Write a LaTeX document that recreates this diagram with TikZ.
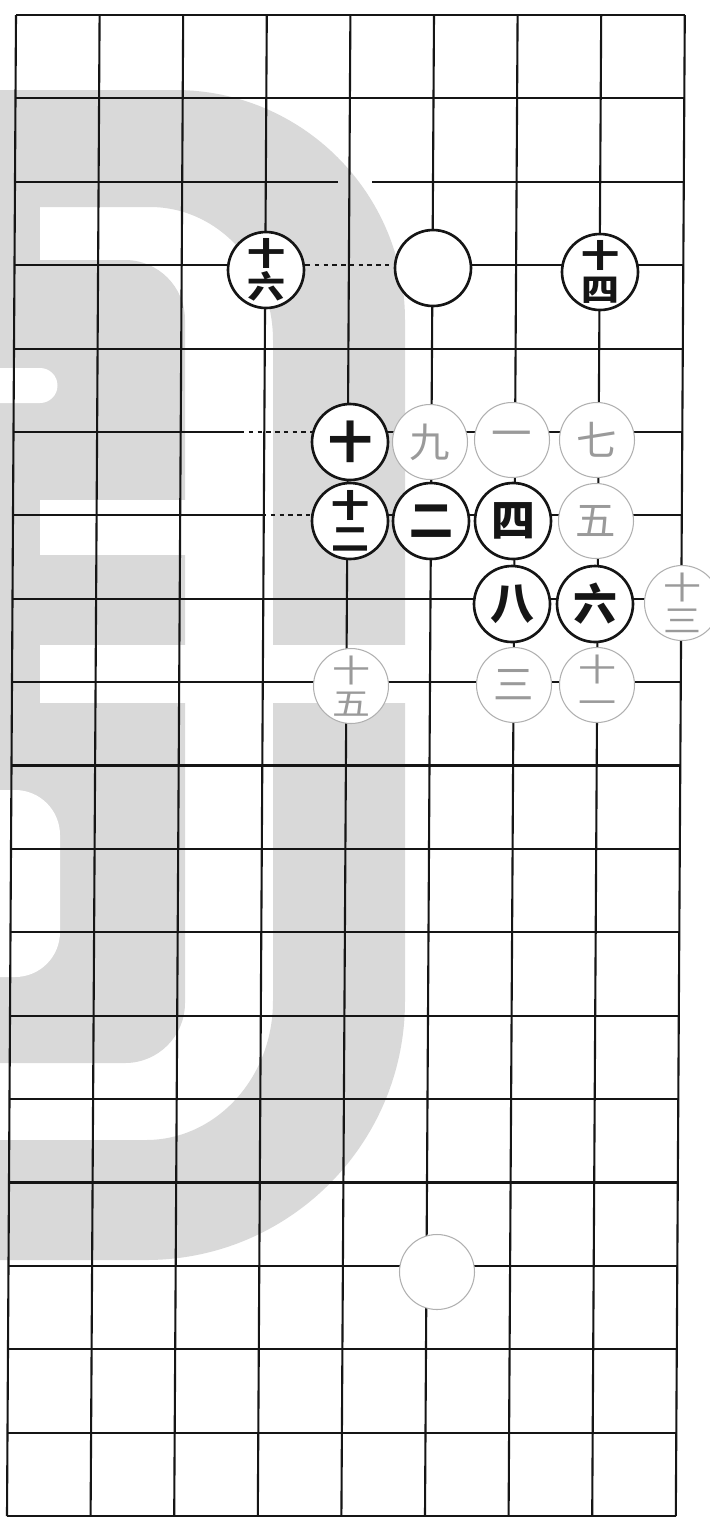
\documentclass[tikz,border=0pt]{standalone}
\usepackage{fontspec}
\newfontfamily\cjk{Noto Sans CJK SC}
\definecolor{wm}{HTML}{D9D9D9}
\definecolor{ink}{HTML}{151515}
\definecolor{faint}{HTML}{B0B0B0}
\definecolor{fainttext}{HTML}{9A9A9A}
\newcommand{\twodig}[1]{\scalebox{1.2}[1]{\fontsize{18}{19}\selectfont\vbox{\baselineskip=19pt\lineskiplimit=-20pt\hbox{十}\hbox{#1}}}}
\tikzset{
  gridline/.style={ink, line width=1.2pt},
  brokenline/.style={ink, line width=1.2pt, dash pattern=on 2.5pt off 2.5pt},
  bstone/.style={circle, draw=ink, line width=1.5pt, fill=white, minimum size=1.52cm, inner sep=0pt, text=ink, font=\cjk\bfseries\fontsize{25}{25}\selectfont},
  wstone/.style={circle, draw=faint, line width=0.6pt, fill=white, minimum size=1.5cm, inner sep=0pt, text=fainttext, font=\cjk\fontsize{23}{23}\selectfont},
  wmark/.style={fill=wm},
  wmhole/.style={fill=white}
}
\begin{document}
\begin{tikzpicture}[x=0.02cm, y=-0.02cm]
\useasboundingbox (0,0) rectangle (710,1519);
\fill[white] (0,0) rectangle (710,1519);
% watermark: outer ring
\fill[wmark, even odd rule]
  (-5,90) -- (175,90) arc[start angle=270, end angle=360, radius=230]
  -- (405,1001) arc[start angle=0, end angle=90, radius=259]
  -- (-5,1260) -- cycle
  (-5,207) -- (150,207) arc[start angle=270, end angle=360, x radius=123, y radius=133]
  -- (273,1001) arc[start angle=0, end angle=90, x radius=127, y radius=139]
  -- (-5,1140) -- cycle;
\fill[wmark] (-5,200) rectangle (40,265);
% watermark: inner shape
\fill[wmark]
  (-5,260) -- (125,260) arc[start angle=270, end angle=360, radius=60]
  -- (185,1003) arc[start angle=0, end angle=90, radius=60]
  -- (-5,1063) -- cycle;
% watermark cut-outs
\fill[wmhole] (-5,368) -- (40,368) arc[start angle=270, end angle=450, radius=17.5] -- (-5,403) -- cycle;
\fill[wmhole] (40,500) rectangle (190,555);
\fill[wmhole] (40,645) rectangle (410,703);
\fill[wmhole] (-5,790) -- (15,790) arc[start angle=270, end angle=360, radius=45]
  -- (60,932) arc[start angle=0, end angle=90, radius=45] -- (-5,977) -- cycle;
% grid: vertical lines
\foreach \i in {0,...,8} \draw[gridline] ({16+83.6*\i},15) -- ({7+83.6*\i},1516);
% grid: horizontal lines (rows 2, 3, 5, 6 drawn below with their breaks)
\foreach \j in {0,1,4,7,8,...,18} {
  \pgfmathsetmacro\yy{15+83.39*\j}
  \pgfmathsetmacro\xl{16-0.006*(\yy-15)}
  \draw[gridline] (\xl,\yy) -- ({\xl+668.8},\yy);
}
\draw[gridline] (15,181.8) -- (338,181.8);
\draw[gridline] (372,181.8) -- (683.8,181.8);
\draw[gridline] (14.5,265.2) -- (306,265.2);
\draw[brokenline] (306,265.2) -- (394,265.2);
\draw[gridline] (394,265.2) -- (683.3,265.2);
\draw[gridline] (13.5,432) -- (240,432);
\draw[brokenline] (240,432) -- (311,432);
\draw[gridline] (311,432) -- (682.3,432);
\draw[gridline] (13,515.3) -- (262,515.3);
\draw[brokenline] (262,515.3) -- (311,515.3);
\draw[gridline] (311,515.3) -- (681.8,515.3);
% stones
\node[bstone] (m16) at (266,270) {\twodig{六}};
\node[bstone] (e1) at (433,268) {};
\node[bstone] (m14) at (600,272) {\twodig{四}};
\node[bstone] (m10) at (350,442) {十};
\node[wstone] (m9) at (430,442) {九};
\node[wstone] (m1) at (512,440) {一};
\node[wstone] (m7) at (597,440) {七};
\node[bstone] (m12) at (350,521) {\twodig{二}};
\node[bstone] (m2) at (431,521) {二};
\node[bstone] (m4) at (513,521) {四};
\node[wstone] (m5) at (596,521) {五};
\node[bstone] (m8) at (512,604) {八};
\node[bstone] (m6) at (595,604) {六};
\node[wstone] (m13) at (682,603) {\twodig{三}};
\node[wstone] (m15) at (351,686) {\twodig{五}};
\node[wstone] (m3) at (514,685) {三};
\node[wstone] (m11) at (597,685) {\twodig{一}};
\node[wstone] (e2) at (437,1272) {};
\end{tikzpicture}
\end{document}
